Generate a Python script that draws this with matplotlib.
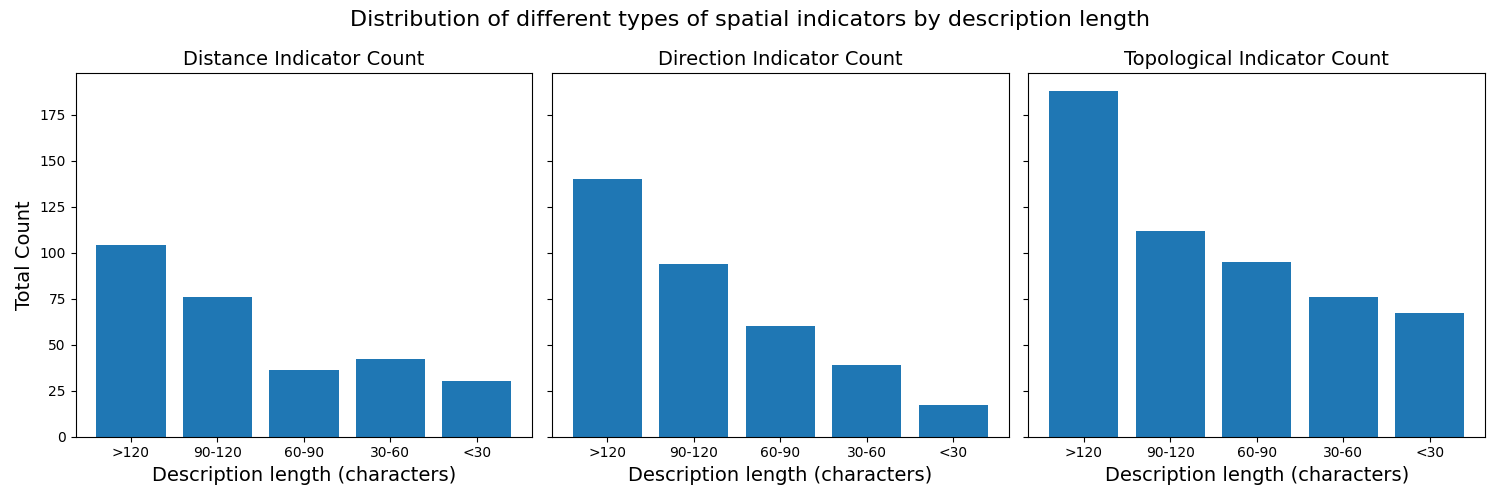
import matplotlib
matplotlib.use("Agg")
import matplotlib.pyplot as plt

categories = [">120", "90-120", "60-90", "30-60", "<30"]
distance = [104, 76, 36, 42, 30]
direction = [140, 94, 60, 39, 17]
topological = [188, 112, 95, 76, 67]
titles = ["Distance Indicator Count", "Direction Indicator Count", "Topological Indicator Count"]

fig, axes = plt.subplots(1, 3, figsize=(15, 5), dpi=100, sharey=True)
for ax, vals, title in zip(axes, [distance, direction, topological], titles):
    ax.bar(categories, vals, color="#1f77b4")
    ax.set_title(title, fontsize=14)
    ax.set_xlabel("Description length (characters)", fontsize=14)
axes[0].set_ylabel("Total Count", fontsize=14)
fig.suptitle("Distribution of different types of spatial indicators by description length", fontsize=16)
fig.tight_layout()
fig.savefig("out.png")
